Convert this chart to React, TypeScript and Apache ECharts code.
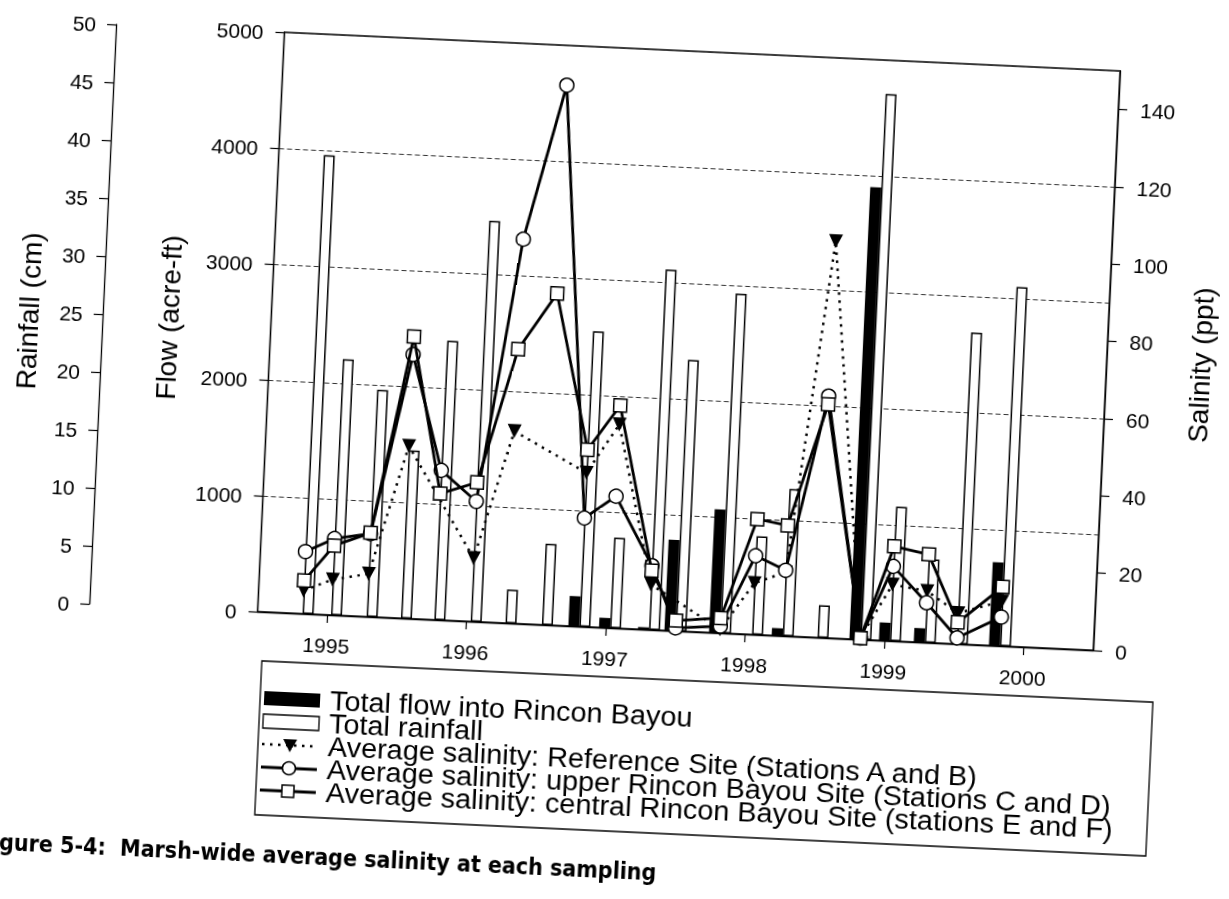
import React, { useEffect, useRef } from "react";
import * as echarts from "echarts";

// Sampling dates (decimal years)
const dates = [1994.823, 1995.027, 1995.283, 1995.529, 1995.769, 1996.03, 1996.28, 1996.541, 1996.81, 1997.03, 1997.31, 1997.5, 1997.82, 1998.05, 1998.27, 1998.52, 1998.828, 1999.04, 1999.29, 1999.52, 1999.83];
// Total flow into Rincon Bayou (acre-ft)
const flow = [0, 0, 0, 0, 0, 0, 0, 0, 260, 85, 20, 785, 1065, 0, 65, 0, 3900, 156, 122, 0, 720];
// Total rainfall (cm)
const rain = [39.6, 22.1, 19.6, 14.5, 24.1, 34.6, 2.9, 7.0, 25.5, 7.8, 31.1, 23.4, 29.3, 8.5, 12.7, 2.8, 47.1, 11.6, 7.2, 26.9, 31.0];
// Average salinity (ppt)
const salRef = [6, 9.2, 11.1, 44.6, null, 16.4, 49.7, null, 39.8, 52.7, 11.7, null, 1, 13.3, 16.5, 102.6, 0.5, 14.6, 13.3, 8, 11.6];
const salUpper = [16.1, 19.8, 21.5, 68.3, 38.7, 31.1, 99.4, 139.7, 28.1, 34.1, 16.6, 0.8, 1.8, 20.4, 17.0, 62.5, 0.4, 19.3, 10.3, 1.6, 7.5];
const salCentral = [8.6, 18.0, 21.7, 72.9, 32.7, 36.0, 70.9, 85.8, 45.8, 57.6, 15.3, 2.7, 3.9, 29.9, 28.6, 60.4, 0.4, 24.5, 22.8, 5.6, 15.3];

const yearTicks = [1995, 1996, 1997, 1998, 1999, 2000];
const salTicks = [0, 20, 40, 60, 80, 100, 120, 140];

const names = [
  "Total flow into Rincon Bayou",
  "Total rainfall",
  "Average salinity: Reference Site (Stations A and B)",
  "Average salinity: upper Rincon Bayou Site (Stations C and D)",
  "Average salinity: central Rincon Bayou Site (stations E and F)",
];
const caption = "gure 5-4:  Marsh-wide average salinity at each sampling";

const FONT = "'Liberation Sans', Arial, sans-serif";
const NARROW = "'Liberation Sans Narrow', 'Arial Narrow', 'DejaVu Sans Condensed', sans-serif";

const pair = (vals: (number | null)[]) => dates.map((d, i) => [d, vals[i]]);
const plain = (v: number) => String(Math.round(v));

// legend layout (unrotated page coordinates)
const LG = { boxX: 272, boxY: 677, boxW: 892, boxH: 154, iconX: 276, iconW: 56, textX: 342, row0: 714, rowGap: 23 };

function legendGraphics() {
  const els: any[] = [];
  const rowY = (i: number) => LG.row0 + i * LG.rowGap;
  const cx = LG.iconX + LG.iconW / 2;
  els.push({ type: "rect", silent: true, shape: { x: LG.boxX, y: LG.boxY, width: LG.boxW, height: LG.boxH }, style: { fill: "none", stroke: "#000", lineWidth: 1.3 } });
  els.push({ type: "rect", silent: true, shape: { x: LG.iconX, y: rowY(0) - 7, width: LG.iconW, height: 14 }, style: { fill: "#000" } });
  els.push({ type: "rect", silent: true, shape: { x: LG.iconX, y: rowY(1) - 7, width: LG.iconW, height: 14 }, style: { fill: "#fff", stroke: "#000", lineWidth: 1.3 } });
  els.push({ type: "line", silent: true, shape: { x1: LG.iconX, y1: rowY(2), x2: LG.iconX + LG.iconW, y2: rowY(2) }, style: { stroke: "#000", lineWidth: 2.5, lineDash: [2.5, 5.5] } });
  els.push({ type: "polygon", silent: true, shape: { points: [[cx - 7, rowY(2) - 6], [cx + 7, rowY(2) - 6], [cx, rowY(2) + 7]] }, style: { fill: "#000" } });
  els.push({ type: "line", silent: true, shape: { x1: LG.iconX, y1: rowY(3), x2: LG.iconX + LG.iconW, y2: rowY(3) }, style: { stroke: "#000", lineWidth: 2.8 } });
  els.push({ type: "circle", silent: true, shape: { cx, cy: rowY(3), r: 6.5 }, style: { fill: "#fff", stroke: "#000", lineWidth: 1.5 } });
  els.push({ type: "line", silent: true, shape: { x1: LG.iconX, y1: rowY(4), x2: LG.iconX + LG.iconW, y2: rowY(4) }, style: { stroke: "#000", lineWidth: 2.8 } });
  els.push({ type: "rect", silent: true, shape: { x: cx - 6, y: rowY(4) - 6, width: 12, height: 12 }, style: { fill: "#fff", stroke: "#000", lineWidth: 1.5 } });
  names.forEach((n, i) => {
    els.push({ type: "text", silent: true, x: LG.textX, y: rowY(i), scaleX: 1.07, style: { text: n, fill: "#000", font: `27px ${FONT}`, verticalAlign: "middle", align: "left" } });
  });
  els.push({ type: "text", silent: true, x: 18, y: 858, style: { text: caption, fill: "#000", font: `bold 23px ${NARROW}` } });
  return els;
}

export default function App() {
  const ref = useRef<HTMLDivElement>(null);
  useEffect(() => {
    if (!ref.current) return;
    const chart = echarts.init(ref.current, undefined, { renderer: "svg" });
    const axisLabel = { color: "#000", fontSize: 21, fontFamily: FONT, formatter: plain };
    const nameStyle = { color: "#000", fontSize: 28, fontFamily: FONT };
    const axisLine = { show: true, lineStyle: { color: "#000", width: 1.3 } };
    chart.setOption({
      animation: false,
      backgroundColor: "transparent",
      grid: { left: 265.5, top: 48, width: 836.5, height: 580, show: true, borderColor: "#000", borderWidth: 1.3, containLabel: false },
      xAxis: {
        type: "value",
        min: 1994.5,
        max: 2000.5,
        axisLine,
        axisTick: { show: true, inside: false, length: 8, customValues: yearTicks, lineStyle: { color: "#000", width: 1.2 } },
        axisLabel: { ...axisLabel, margin: 20, customValues: yearTicks },
        splitLine: { show: false },
      },
      yAxis: [
        {
          type: "value", position: "left", min: 0, max: 5000, interval: 1000,
          name: "Flow (acre-ft)", nameLocation: "middle", nameGap: 88, nameRotate: 90, nameTextStyle: nameStyle,
          axisLine, axisTick: { show: true, length: 9, lineStyle: { color: "#000", width: 1.2 } },
          axisLabel: { ...axisLabel, margin: 21 },
          splitLine: { show: true, lineStyle: { color: "#333", width: 1, type: [5, 3] } },
        },
        {
          type: "value", position: "left", offset: 168.5, min: 0, max: 50, interval: 5,
          name: "Rainfall (cm)", nameLocation: "middle", nameGap: 60, nameRotate: 90, nameTextStyle: nameStyle,
          axisLine, axisTick: { show: true, length: 9, lineStyle: { color: "#000", width: 1.2 } },
          axisLabel: { ...axisLabel, margin: 20 },
          splitLine: { show: false },
        },
        {
          type: "value", position: "right", min: 0, max: 150,
          name: "Salinity (ppt)", nameLocation: "middle", nameGap: 80, nameRotate: 90, nameTextStyle: nameStyle,
          axisLine, axisTick: { show: true, length: 9, customValues: salTicks, lineStyle: { color: "#000", width: 1.2 } },
          axisLabel: { ...axisLabel, margin: 22, customValues: salTicks },
          splitLine: { show: false },
        },
      ],
      graphic: legendGraphics(),
      series: [
        {
          name: names[0], type: "bar", yAxisIndex: 0, barWidth: 11, barGap: "0%",
          data: pair(flow), itemStyle: { color: "#000", borderColor: "#000", borderWidth: 0 },
        },
        {
          name: names[1], type: "bar", yAxisIndex: 1, barWidth: 11, barGap: "0%",
          data: pair(rain), itemStyle: { color: "#fff", borderColor: "#000", borderWidth: 1.5 },
        },
        {
          name: names[2], type: "line", yAxisIndex: 2, data: pair(salRef), connectNulls: true,
          symbol: "triangle", symbolRotate: 180, symbolSize: 14,
          lineStyle: { color: "#000", width: 2.5, type: [2.5, 5.5] },
          itemStyle: { color: "#000", borderColor: "#000", borderWidth: 0 }, z: 3,
        },
        {
          name: names[3], type: "line", yAxisIndex: 2, data: pair(salUpper), connectNulls: true,
          symbol: "circle", symbolSize: 14, showAllSymbol: true,
          lineStyle: { color: "#000", width: 2.8 },
          itemStyle: { color: "#fff", borderColor: "#000", borderWidth: 1.5 }, z: 4,
        },
        {
          name: names[4], type: "line", yAxisIndex: 2, data: pair(salCentral), connectNulls: true,
          symbol: "rect", symbolSize: 13, showAllSymbol: true,
          lineStyle: { color: "#000", width: 2.8 },
          itemStyle: { color: "#fff", borderColor: "#000", borderWidth: 1.5 }, z: 5,
        },
      ],
    });
    return () => chart.dispose();
  }, []);
  return (
    <div
      ref={ref}
      style={{
        position: "fixed",
        left: 0,
        top: 0,
        width: 1229,
        height: 899,
        transform: "rotate(2.65deg)",
        transformOrigin: "614.5px 449.5px",
        background: "transparent",
      }}
    />
  );
}
